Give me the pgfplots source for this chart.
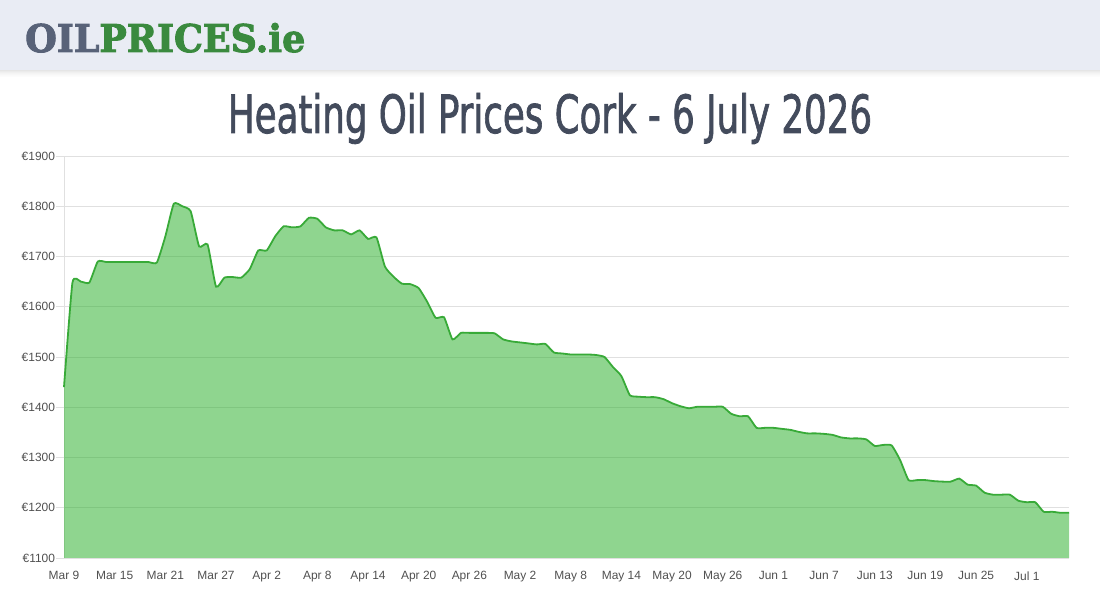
\documentclass[border=0pt]{standalone}
\usepackage{pgfplots}
\pgfplotsset{compat=1.18}
\usepackage{pgfplotstable}
\usepackage{fontspec}
\usepackage{graphicx}
\setmainfont{Liberation Sans}
\newfontfamily\titlefont{DejaVu Sans Condensed}[FakeBold=1.6]
\newfontfamily\logofont{DejaVu Serif}[BoldFeatures={FakeBold=2.5}]
\definecolor{hdr}{RGB}{233,236,244}
\definecolor{titlecol}{RGB}{67,75,92}
\definecolor{logogray}{RGB}{88,98,120}
\definecolor{logogreen}{RGB}{58,138,62}
\definecolor{linegreen}{RGB}{56,170,56}
\definecolor{fillgreen}{RGB}{40,175,40}
\definecolor{gridgray}{RGB}{224,224,224}
\definecolor{ticktext}{RGB}{80,80,80}

\pgfplotstableread{
day price
0 1440
1 1648
2 1650
3 1648
4 1690
5 1689
6 1689
7 1689
8 1689
9 1689
10 1689
11 1688
12 1740
13 1805
14 1800
15 1790
16 1720
17 1724
18 1640
19 1658
20 1659
21 1658
22 1675
23 1712
24 1712
25 1740
26 1760
27 1758
28 1760
29 1777
30 1775
31 1758
32 1752
33 1752
34 1744
35 1752
36 1735
37 1738
38 1680
39 1660
40 1646
41 1645
42 1637
43 1610
44 1578
45 1579
46 1535
47 1548
48 1548
49 1548
50 1548
51 1547
52 1535
53 1531
54 1529
55 1527
56 1525
57 1526
58 1509
59 1507
60 1505
61 1505
62 1505
63 1504
64 1500
65 1480
66 1462
67 1424
68 1421
69 1420
70 1420
71 1416
72 1408
73 1402
74 1398
75 1401
76 1401
77 1401
78 1401
79 1387
80 1382
81 1382
82 1359
83 1359
84 1359
85 1357
86 1355
87 1351
88 1348
89 1348
90 1347
91 1345
92 1340
93 1338
94 1338
95 1336
96 1323
97 1325
98 1324
99 1295
100 1255
101 1255
102 1255
103 1253
104 1252
105 1252
106 1258
107 1246
108 1244
109 1230
110 1226
111 1226
112 1226
113 1214
114 1211
115 1211
116 1192
117 1192
118 1190
119 1190
}\pricedata

\begin{document}
\begin{tikzpicture}[x=1bp,y=1bp]
\path[use as bounding box] (0,0) rectangle (1100,600);
% header band with soft shadow
\foreach \i/\op in {0/0.10,1/0.08,2/0.06,3/0.045,4/0.03,5/0.02,6/0.01}{
  \fill[black,opacity=\op] (0,530-\i-1) rectangle (1100,530-\i);
}
\fill[hdr] (0,530) rectangle (1100,600);
% logo
\node[anchor=base west,inner sep=0pt] at (25,548)
  {\resizebox{280bp}{29bp}{\logofont\bfseries\textcolor{logogray}{OIL}\textcolor{logogreen}{PRICES.ie}}};
% title
\node[anchor=base,inner sep=0pt] at (550,467)
  {\resizebox{644bp}{40bp}{\titlefont\textcolor{titlecol}{Heating Oil Prices Cork - 6 July 2026}}};

\begin{axis}[
  at={(64bp,42bp)}, anchor=south west,
  scale only axis, width=1005bp, height=402bp,
  xmin=0, xmax=119, ymin=1100, ymax=1900,
  axis lines=left,
  axis line style={draw=none},
  x axis line style={draw=none},
  y axis line style={draw=gridgray, line width=1bp, -},
  ymajorgrids, grid style={draw=gridgray, line width=0.8bp},
  xtick={0,6,...,114},
  xticklabels={Mar 9,Mar 15,Mar 21,Mar 27,Apr 2,Apr 8,Apr 14,Apr 20,Apr 26,May 2,May 8,May 14,May 20,May 26,Jun 1,Jun 7,Jun 13,Jun 19,Jun 25,Jul 1},
  ytick={1100,1200,...,1900},
  yticklabels={€1100,€1200,€1300,€1400,€1500,€1600,€1700,€1800,€1900},
  tick align=outside,
  major tick length=8bp,
  xtick style={draw=none},
  ytick style={draw=gridgray, line width=0.8bp},
  ticklabel style={font=\fontsize{12}{14}\selectfont, text=ticktext},
  yticklabel style={xshift=2.5bp},
  xticklabel style={yshift=-2bp},
  clip=false,
]
\addplot[draw=none, fill=fillgreen, fill opacity=0.52, smooth, tension=0.3] table[x=day,y=price]{\pricedata} \closedcycle;
\addplot[linegreen, line width=1.8bp, smooth, tension=0.3, mark=none] table[x=day,y=price]{\pricedata};
\end{axis}
\end{tikzpicture}
\end{document}
